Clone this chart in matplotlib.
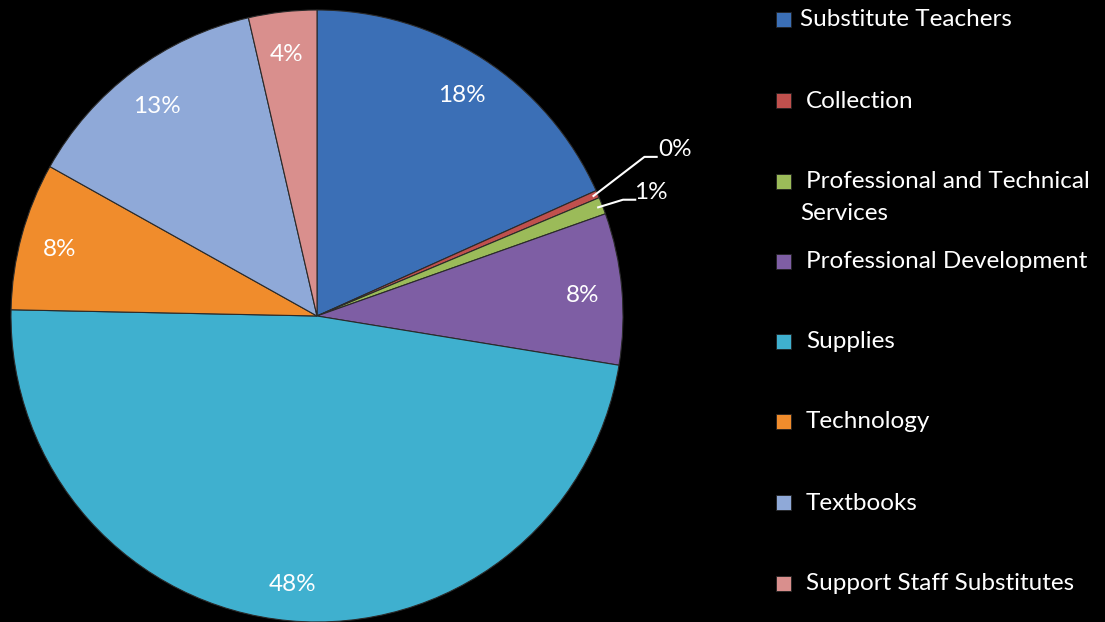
import numpy as np
import matplotlib
matplotlib.use("Agg")
import matplotlib.pyplot as plt
from matplotlib.patches import Rectangle

categories = ["Substitute Teachers", "Collection", "Professional and Technical\nServices",
              "Professional Development", "Supplies", "Technology", "Textbooks",
              "Support Staff Substitutes"]
values = [18.3, 0.4, 0.9, 8.0, 47.8, 7.8, 13.3, 3.6]
colors = ["#3b6fb6", "#c0504d", "#9bbb59", "#7e5ea4", "#3fb0cf", "#f08c2c", "#8fa9d8", "#d98f8d"]

FONT = ["Lato", "DejaVu Sans"]
FS = 17.5

W, H = 1105, 622
fig = plt.figure(figsize=(W / 100, H / 100), dpi=100, facecolor="black")
ax = fig.add_axes([11 / W, 0 / H, 612 / W, 612 / H])
ax.set_facecolor("black")

wedges, _ = ax.pie(values, colors=colors, startangle=90, counterclock=False,
                   radius=1.0, wedgeprops=dict(edgecolor="#2a2a2a", linewidth=0.8))
ax.set_xlim(-1, 1)
ax.set_ylim(-1, 1)
ax.set_aspect("equal")
ax.axis("off")

total = sum(values)
for i, (w, v) in enumerate(zip(wedges, values)):
    ang = np.deg2rad((w.theta1 + w.theta2) / 2)
    pct = f"{round(v / total * 100):.0f}%"
    if v >= 2:
        ax.text(0.87 * np.cos(ang), 0.87 * np.sin(ang) - 0.01, pct, ha="center", va="center",
                color="white", fontsize=FS, family=FONT)
    else:
        x0, y0 = 0.985 * np.cos(ang), 0.985 * np.sin(ang)
        if i == 1:
            elbow = (1.07, 0.52)
            tx = (1.115, 0.545)
        else:
            elbow = (1.0, 0.38)
            tx = (1.035, 0.405)
        ax.plot([x0, elbow[0], elbow[0] + 0.04], [y0, elbow[1], elbow[1]],
                color="white", lw=1.5, clip_on=False)
        ax.text(tx[0], tx[1], pct, ha="left", va="center", color="white",
                fontsize=FS, family=FONT, clip_on=False)

# Legend
rows_y = [20, 101, 182, 262, 342, 422, 503, 584]
for i, (lab, c, yy) in enumerate(zip(categories, colors, rows_y)):
    fig.patches.append(Rectangle(((776) / W, 1 - (yy + 7) / H), 15 / W, 15 / H,
                                 transform=fig.transFigure, facecolor=c,
                                 edgecolor="#222222", linewidth=0.6))
    if "\n" in lab:
        l1, l2 = lab.split("\n")
        fig.text(806 / W, 1 - yy / H, l1, color="white", fontsize=FS, family=FONT,
                 ha="left", va="center")
        fig.text(800 / W, 1 - (yy + 31) / H, l2, color="white", fontsize=FS, family=FONT,
                 ha="left", va="center")
    else:
        xx = 800 if i == 0 else 806
        fig.text(xx / W, 1 - yy / H, lab, color="white", fontsize=FS, family=FONT,
                 ha="left", va="center")

fig.savefig("out.png", dpi=100, facecolor="black")
